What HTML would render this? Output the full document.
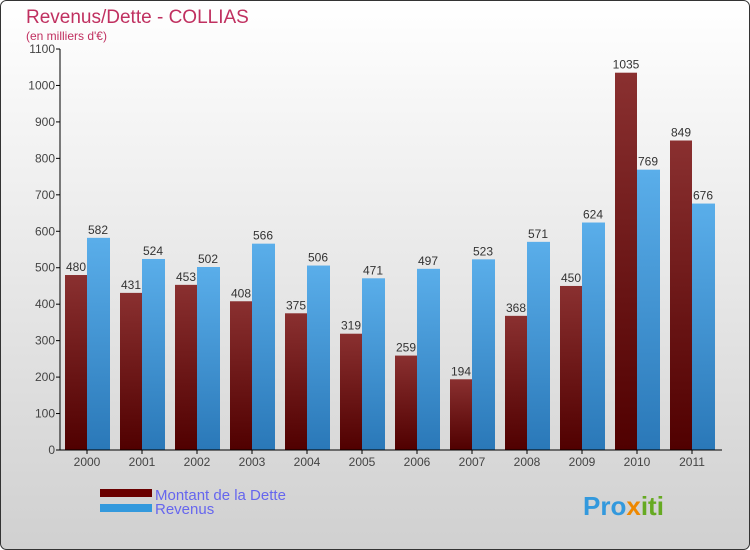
<!DOCTYPE html>
<html><head><meta charset="utf-8"><style>
body{margin:0;}
#c{width:750px;height:550px;position:relative;overflow:hidden;}
</style></head><body>
<div id="c">
<svg width="750" height="550" xmlns="http://www.w3.org/2000/svg" id="svg" font-family="Liberation Sans, sans-serif">
<defs>
<linearGradient id="bg" x1="0" y1="0" x2="0" y2="1"><stop offset="0" stop-color="#ffffff"/><stop offset="1" stop-color="#d0d0d0"/></linearGradient>
<linearGradient id="gd" x1="0" y1="0" x2="0" y2="1"><stop offset="0" stop-color="#8a3030"/><stop offset="1" stop-color="#500000"/></linearGradient>
<linearGradient id="gr" x1="0" y1="0" x2="0" y2="1"><stop offset="0" stop-color="#5aaeea"/><stop offset="1" stop-color="#2a78b8"/></linearGradient>
</defs>
<rect x="0.5" y="0.5" width="749" height="549" rx="6" fill="url(#bg)" stroke="#333"/>
<text x="26" y="23" font-size="19" fill="#c03060">Revenus/Dette - COLLIAS</text>
<text x="26" y="40" font-size="12" fill="#c03060">(en milliers d'€)</text>
<g id="plot"></g>
<rect x="100" y="489" width="52" height="8" fill="#6a0000"/>
<rect x="100" y="504" width="52" height="8" fill="#3399dd"/>
<text x="155" y="500" font-size="15" fill="#6666ee">Montant de la Dette</text>
<text x="155" y="514" font-size="15" fill="#6666ee">Revenus</text>
<text x="583" y="515" font-size="26" font-weight="bold" fill="#3399dd">Pro<tspan fill="#ee8800">x</tspan><tspan fill="#66aa22">iti</tspan></text>
</svg>
</div>
<script>
const years=["2000","2001","2002","2003","2004","2005","2006","2007","2008","2009","2010","2011"];
const dette=[480,431,453,408,375,319,259,194,368,450,1035,849];
const revenus=[582,524,502,566,506,471,497,523,571,624,769,676];
const ticks=[0,100,200,300,400,500,600,700,800,900,1000,1100];
const NS="http://www.w3.org/2000/svg";
const g=document.getElementById('plot');
const y0=450,yTop=49,maxV=1100,x0=60,step=55,first=87;
const y=v=>y0-(v/maxV)*(y0-yTop);
const x=i=>first+i*step;
function mk(t,a){const e=document.createElementNS(NS,t);for(const k in a)e.setAttribute(k,a[k]);g.appendChild(e);return e;}
ticks.forEach(t=>{
 const l=mk('line',{x1:x0-4,x2:x0,y1:y(t),y2:y(t),stroke:'#000'});
 
 
 const tx=mk('text',{x:x0-5,y:y(t)+4,'font-size':12,fill:'#444','text-anchor':'end'});tx.textContent=t;
 
 
});
years.forEach((yr,i)=>{
 const cx=x(i);
 const b1=mk('rect',{x:cx-22,y:y(dette[i]),width:22,height:y0-y(dette[i]),fill:'url(#gd)'});
 
 
 const b2=mk('rect',{x:cx,y:y(revenus[i]),width:23,height:y0-y(revenus[i]),fill:'url(#gr)'});
 
 
 const l1=mk('text',{x:cx-11,y:y(dette[i])-4,'font-size':12,fill:'#333','text-anchor':'middle'});l1.textContent=dette[i];
 
 
 const l2=mk('text',{x:cx+11,y:y(revenus[i])-4,'font-size':12,fill:'#333','text-anchor':'middle'});l2.textContent=revenus[i];
 
 
 const tk=mk('line',{x1:cx,x2:cx,y1:y0,y2:y0+4,stroke:'#000'});
 
 
 const xl=mk('text',{x:cx,y:y0+16,'font-size':12,fill:'#444','text-anchor':'middle'});xl.textContent=yr;
 
 
});
const ya=mk('line',{x1:x0,x2:x0,y1:yTop,y2:y0,stroke:'#000'});


const xa=mk('line',{x1:x0,x2:722,y1:y0,y2:y0,stroke:'#000'});


</script>
</body></html>
